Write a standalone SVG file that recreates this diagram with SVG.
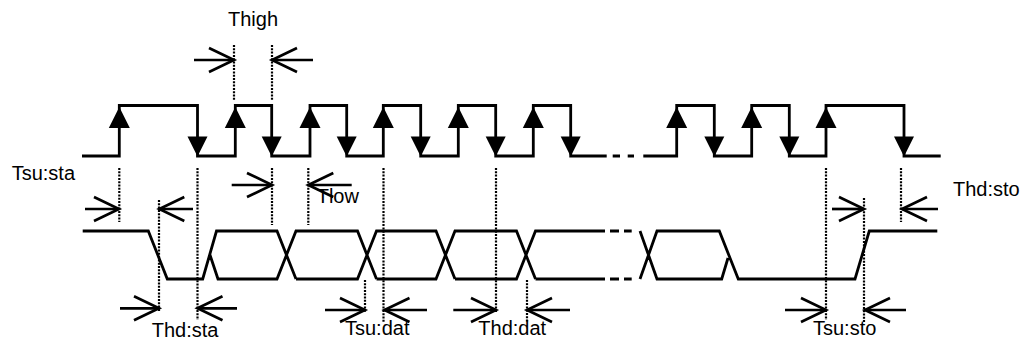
<svg xmlns="http://www.w3.org/2000/svg" width="1026" height="343" viewBox="0 0 1026 343">
<style>
.sig{fill:none;stroke:#000;stroke-width:2.8;stroke-linejoin:miter}
.dot{fill:none;stroke:#000;stroke-width:2.2;stroke-dasharray:2 1.3}
.dim{fill:none;stroke:#000;stroke-width:2.7;marker-end:url(#v)}
.lbl{font-family:"Liberation Sans",Arial,sans-serif;font-size:20px;fill:#000}
.tri{fill:#000}
</style>
<defs>
<marker id="v" markerUnits="userSpaceOnUse" viewBox="-30 -15 32 30" markerWidth="32" markerHeight="30" refX="0" refY="0" orient="auto" overflow="visible">
<path d="M-25,-12 L0,0 L-25,12" fill="none" stroke="#000" stroke-width="2.7"/>
</marker>
<path id="up" d="M0,0 L-10.5,21 L10.5,21 Z"/>
<path id="dn" d="M0,0 L-10,-20 L10,-20 Z"/>
</defs>
<rect width="1026" height="343" fill="#fff"/>
<g id="scl">
<path class="sig" d="M82,156 H119.3 V105.5 H197.5 V156 H235.3 V105.5 H271.7 V156 H310 V105.5 H346.7 V156 H383.3 V105.5 H420.7 V156 H458.3 V105.5 H495.7 V156 H533.3 V105.5 H570.7 V156 H606.7 M612.7,156 H620 M627.7,156 H634 M643.3,156 H676.7 V105.5 H714.3 V156 H751.7 V105.5 H789.3 V156 H826 V105.5 H904 V156 H940.7"/>
<g class="tri">
<use href="#up" x="119.3" y="107"/><use href="#up" x="235.3" y="107"/><use href="#up" x="310" y="107"/><use href="#up" x="383.3" y="107"/><use href="#up" x="458.3" y="107"/><use href="#up" x="533.3" y="107"/><use href="#up" x="676.7" y="107"/><use href="#up" x="751.7" y="107"/><use href="#up" x="826" y="107"/>
<use href="#dn" x="197.5" y="156.5"/><use href="#dn" x="271.7" y="156.5"/><use href="#dn" x="346.7" y="156.5"/><use href="#dn" x="420.7" y="156.5"/><use href="#dn" x="495.7" y="156.5"/><use href="#dn" x="570.7" y="156.5"/><use href="#dn" x="714.3" y="156.5"/><use href="#dn" x="789.3" y="156.5"/><use href="#dn" x="904" y="156.5"/>
</g>
</g>
<g id="sda">
<path class="sig" d="M82.7,231 H148.3 L167.3,279 H202.7 L216.5,231 H277 L296,279 M210,255 L218,279 H277 L296,231 H357.5 L376.5,279 M296,279 H357.5 L376.5,231 H436 L455,279 M376.5,279 H436 L455,231 H516.5 L535.5,279 M455,279 H516.5 L535.5,231 H605 M535.5,279 H605 M610,231 H619 M624,231 H631.7 M610,279 H619 M624,279 H631.7 M640,231 L657,279 H721.7 L728,258 M640,279 L657,231 H719.3 L738.3,279 H855 L869.3,231 H937.3"/>
</g>
<g id="guides">
<line class="dot" x1="234" y1="45" x2="234" y2="100"/>
<line class="dot" x1="272" y1="45" x2="272" y2="100"/>
<line class="dot" x1="119.3" y1="168" x2="119.3" y2="222"/>
<line class="dot" x1="159" y1="200" x2="159" y2="312"/>
<line class="dot" x1="197.5" y1="168" x2="197.5" y2="320"/>
<line class="dot" x1="272" y1="168" x2="272" y2="225"/>
<line class="dot" x1="308.3" y1="168" x2="308.3" y2="225"/>
<line class="dot" x1="365" y1="280" x2="365" y2="313"/>
<line class="dot" x1="383.5" y1="168" x2="383.5" y2="323"/>
<line class="dot" x1="496" y1="168" x2="496" y2="313"/>
<line class="dot" x1="527" y1="280" x2="527" y2="323"/>
<line class="dot" x1="826" y1="168" x2="826" y2="320"/>
<line class="dot" x1="864" y1="198" x2="864" y2="323"/>
<line class="dot" x1="901" y1="168" x2="901" y2="222"/>
</g>
<g id="thigh">
<line class="dim" x1="194" y1="60" x2="234" y2="60"/>
<line class="dim" x1="313" y1="60" x2="272" y2="60"/>
<text class="lbl" x="228" y="26">Thigh</text>
</g>
<g id="tsusta">
<line class="dim" x1="85" y1="209" x2="119" y2="209"/>
<line class="dim" x1="193" y1="209" x2="159.3" y2="209"/>
<text class="lbl" x="11.7" y="180">Tsu:sta</text>
</g>
<g id="tlow">
<line class="dim" x1="231.7" y1="185" x2="272" y2="185"/>
<line class="dim" x1="351.7" y1="185" x2="308.3" y2="185"/>
<text class="lbl" x="316.7" y="202.5">Tlow</text>
</g>
<g id="thdsta">
<line class="dim" x1="120" y1="308.3" x2="159" y2="308.3"/>
<line class="dim" x1="237" y1="308.3" x2="197.5" y2="308.3"/>
<text class="lbl" x="151.7" y="336.5">Thd:sta</text>
</g>
<g id="tsudat">
<line class="dim" x1="325" y1="310" x2="365" y2="310"/>
<line class="dim" x1="427" y1="310" x2="384.5" y2="310"/>
<text class="lbl" x="345" y="335">Tsu:dat</text>
</g>
<g id="thddat">
<line class="dim" x1="453.3" y1="310" x2="496" y2="310"/>
<line class="dim" x1="570" y1="310" x2="527" y2="310"/>
<text class="lbl" x="478.3" y="335">Thd:dat</text>
</g>
<g id="tsusto">
<line class="dim" x1="785" y1="310" x2="826" y2="310"/>
<line class="dim" x1="906" y1="310" x2="865" y2="310"/>
<text class="lbl" x="813" y="335">Tsu:sto</text>
</g>
<g id="thdsto">
<line class="dim" x1="832" y1="209" x2="864" y2="209"/>
<line class="dim" x1="938" y1="209" x2="902" y2="209"/>
<text class="lbl" x="953" y="196">Thd:sto</text>
</g>
</svg>
